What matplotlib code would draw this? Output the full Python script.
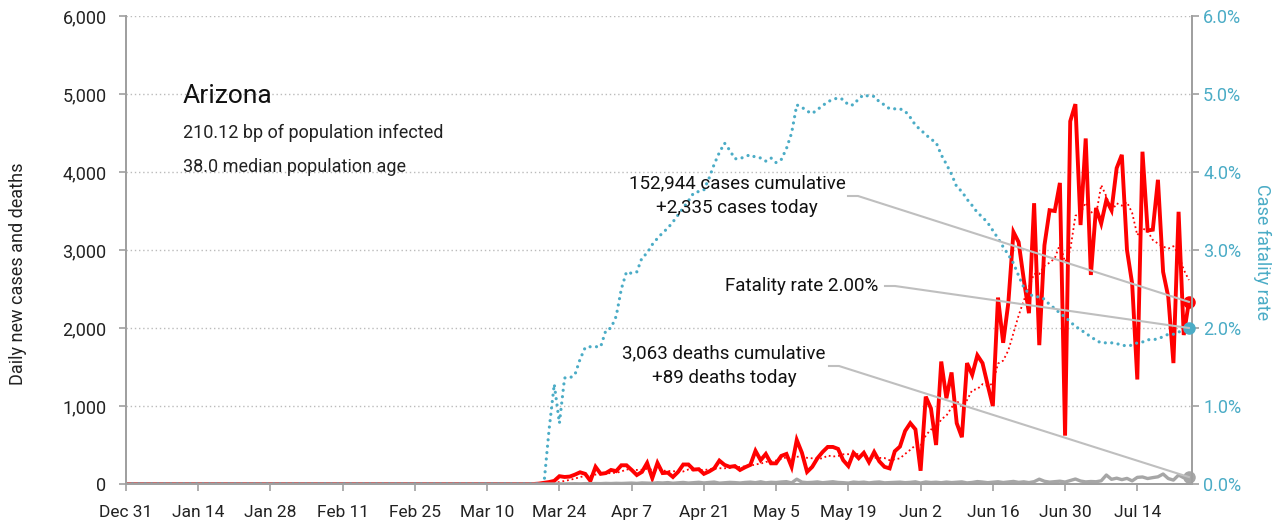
import matplotlib
matplotlib.use('Agg')
import matplotlib.pyplot as plt
import numpy as np
import pandas as pd

plt.rcParams['font.family'] = ['Roboto', 'DejaVu Sans']

# chart data
dates = pd.date_range('2019-12-31', '2020-07-24', freq='D')
first_day = pd.Timestamp('2020-03-20')  # everything before is zero

daily_cases = [
    5, 15, 25, 40, 100, 90, 95, 120, 150, 130,
    40, 220, 130, 140, 180, 165, 240, 240, 180, 115,
    155, 270, 75, 270, 140, 145, 90, 155, 250, 250,
    185, 190, 130, 160, 200, 300, 245, 220, 230, 180,
    215, 245, 425, 305, 385, 265, 265, 360, 385, 220,
    565, 400, 155, 220, 330, 410, 475, 475, 450, 305,
    230, 400, 330, 400, 280, 410, 290, 220, 200, 420,
    480, 680, 780, 700, 170, 1120, 970, 500, 1570, 1100,
    1430, 780, 600, 1550, 1400, 1650, 1550, 1270, 1000, 2390,
    1810, 2320, 3230, 3100, 2620, 2190, 3600, 1780, 3060, 3510,
    3500, 3860, 620, 4650, 4870, 3320, 4430, 2680, 3540, 3340,
    3640, 3510, 4050, 4220, 3000, 2570, 1340, 4260, 3250, 3260,
    3900, 2720, 2400, 1550, 3490, 1910, 2335,
]

daily_deaths = [
    0, 0, 1, 0, 2, 1, 3, 4, 2, 5,
    4, 6, 5, 8, 6, 9, 7, 10, 12, 8,
    14, 11, 9, 16, 13, 18, 10, 15, 20, 12,
    17, 22, 14, 19, 25, 11, 16, 21, 18, 13,
    20, 24, 17, 28, 15, 22, 19, 26, 30, 14,
    62, 24, 18, 21, 27, 16, 23, 29, 20, 17,
    12, 25, 19, 24, 14, 22, 26, 15, 18, 20,
    24, 17, 21, 28, 12, 26, 19, 23, 16, 25,
    18, 22, 27, 14, 20, 31, 25, 17, 23, 29,
    19, 26, 33, 21, 28, 18, 30, 62, 35, 24,
    30, 36, 25, 44, 64, 38, 27, 32, 29, 41,
    115, 60, 75, 56, 72, 40, 85, 90, 70, 82,
    92, 128, 70, 50, 115, 80, 89,
]

# case fatality rate in percent
fatality_rate = [
    0, 0, 0.7, 1.28, 0.78, 1.36, 1.36, 1.4, 1.6, 1.75,
    1.76, 1.76, 1.76, 1.97, 2.0, 2.15, 2.5, 2.72, 2.7, 2.72,
    2.9, 2.96, 3.07, 3.15, 3.22, 3.28, 3.36, 3.45, 3.54, 3.63,
    3.73, 3.75, 3.77, 3.92, 4.1, 4.25, 4.37, 4.28, 4.17, 4.17,
    4.2, 4.22, 4.19, 4.18, 4.14, 4.18, 4.12, 4.16, 4.3, 4.5,
    4.86, 4.83, 4.78, 4.75, 4.8, 4.85, 4.9, 4.93, 4.95, 4.93,
    4.86, 4.86, 4.94, 4.99, 4.97, 4.97, 4.9, 4.86, 4.81, 4.81,
    4.81, 4.78, 4.7, 4.6, 4.54, 4.48, 4.42, 4.38, 4.22, 4.1,
    3.97, 3.81, 3.75, 3.65, 3.57, 3.48, 3.42, 3.35, 3.25, 3.15,
    3.04, 2.94, 2.83, 2.67, 2.52, 2.44, 2.4, 2.4, 2.37, 2.3,
    2.25, 2.19, 2.14, 2.08, 2.02, 1.98, 1.93, 1.89, 1.84, 1.81,
    1.81, 1.81, 1.8, 1.78, 1.77, 1.78, 1.81, 1.82, 1.85, 1.85,
    1.86, 1.89, 1.92, 1.92, 1.95, 1.96, 2.0,
]

state = 'Arizona'
subtitle = ['210.12 bp of population infected', '38.0 median population age']
cases_note = '152,944 cases cumulative\n+2,335 cases today'
rate_note = 'Fatality rate 2.00%'
deaths_note = '3,063 deaths cumulative\n+89 deaths today'

RED = '#FF0000'
TEAL = '#4BACC6'
GRAY = '#A6A6A6'
LINE = '#BFBFBF'
AXIS = '#A0A0A0'

# pad the early (all zero) part of the year
n_pad = (first_day - dates[0]).days
cases = pd.Series(np.r_[np.zeros(n_pad), daily_cases], index=dates)
deaths = pd.Series(np.r_[np.zeros(n_pad), daily_deaths], index=dates)
rate = pd.Series(np.r_[np.zeros(n_pad), fatality_rate], index=dates)
cases_avg = cases.rolling(7, min_periods=1).mean()

fig = plt.figure(figsize=(12.81, 5.24), dpi=100)
ax = fig.add_axes([126 / 1281, 40 / 524, 1066 / 1281, 468 / 524])
ax2 = ax.twinx()

ax.plot(dates, cases, color=RED, lw=2.8, solid_joinstyle='miter', zorder=3)
ax.plot(dates, cases_avg, color=RED, lw=1.3, ls=(0, (1, 1.6)), zorder=4)
ax.plot(dates, deaths, color=GRAY, lw=2.4, zorder=5)
ax2.plot(dates, rate, color=TEAL, lw=2.3, ls=(0, (0.01, 2.0)),
         dash_capstyle='round', zorder=2)

x0 = dates[0]
x1 = dates[0] + pd.Timedelta(days=206.6)
ax.set_xlim(x0, x1)
ax.set_ylim(0, 6000)
ax2.set_ylim(0, 6)

ax.set_yticks(range(0, 6001, 1000))
ax.set_yticklabels([f'{v:,}' for v in range(0, 6001, 1000)])
ax2.set_yticks(range(0, 7))
ax2.set_yticklabels([f'{v:.1f}%' for v in range(0, 7)])

ticks = dates[::14]
ax.set_xticks(ticks)
ax.set_xticklabels([d.strftime('%b %-d') for d in ticks])

for y in range(1000, 6001, 1000):
    ax.axhline(y, color='#BBBBBB', lw=1.0, ls=(0, (1, 2)), zorder=1)

for a in (ax, ax2):
    a.spines['top'].set_visible(False)
    for s in ('left', 'right', 'bottom'):
        a.spines[s].set_color(AXIS)
        a.spines[s].set_linewidth(1.4)
ax.tick_params(axis='both', colors=AXIS, length=5, width=1.2, labelsize=13)
ax.tick_params(axis='y', pad=9, labelcolor='#222222')
ax.tick_params(axis='x', pad=10, labelcolor='#222222', labelsize=12.5)
ax2.tick_params(axis='y', colors=AXIS, length=5, width=1.2, labelsize=13,
                labelcolor=TEAL, pad=3)

fig.text(18 / 1281, 1 - 274 / 524, 'Daily new cases and deaths', rotation=90,
         ha='center', va='center', fontsize=13, color='#222222')
fig.text(1262 / 1281, 1 - 252 / 524, 'Case fatality rate', rotation=270,
         ha='center', va='center', fontsize=13, color=TEAL)

# title block
fig.text(183, 524 - 103, state, transform=None, fontsize=19, color='#111111',
         va='baseline')
fig.text(183, 524 - 138, subtitle[0], transform=None, fontsize=13,
         color='#222222', va='baseline')
fig.text(183, 524 - 172, subtitle[1], transform=None, fontsize=13,
         color='#222222', va='baseline')

# end markers, allowed to spill over the right spine
last = dates[-1]
ax.plot([last], [cases.iloc[-1]], 'o', color=RED, ms=8, zorder=7, clip_on=False)
ax.plot([last], [deaths.iloc[-1]], 'o', color=GRAY, ms=8, zorder=7, clip_on=False)
ax2.plot([last], [rate.iloc[-1]], 'o', color=TEAL, ms=8, zorder=7, clip_on=False)


def callout(axis, value, text, tx, ty, lx, kink, ha='center'):
    # text plus a short flat stub and a straight leader to the last point
    fig.text(tx, 524 - ty, text, transform=None, fontsize=13.5, color='#111111',
             ha=ha, va='center', linespacing=1.45)
    px, py = axis.transData.transform((matplotlib.dates.date2num(last), value))
    fig.add_artist(plt.Line2D([lx, kink, px], [524 - ty, 524 - ty, py],
                              transform=None, color=LINE, lw=1.5, zorder=8))


callout(ax, cases.iloc[-1], cases_note, 737, 196, 848, 858)
callout(ax2, rate.iloc[-1], rate_note, 878, 286, 885, 895, ha='right')
callout(ax, deaths.iloc[-1], deaths_note, 724, 366, 829, 839)

fig.savefig('out.png', dpi=100)
